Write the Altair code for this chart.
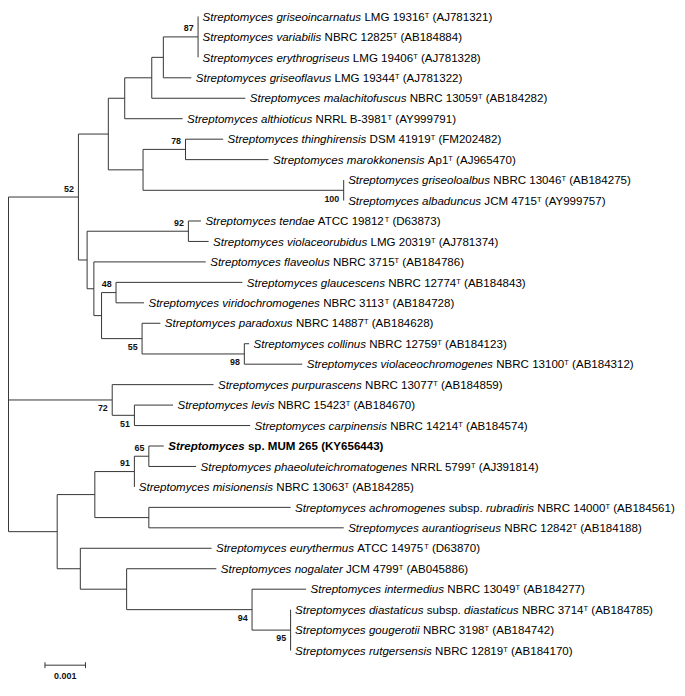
import altair as alt
import pandas as pd

# ---------------- data ----------------
GENUS = "Streptomyces"
species = ["griseoincarnatus", "variabilis", "erythrogriseus", "griseoflavus",
           "malachitofuscus", "althioticus", "thinghirensis", "marokkonensis",
           "griseoloalbus", "albaduncus", "tendae", "violaceorubidus", "flaveolus",
           "glaucescens", "viridochromogenes", "paradoxus", "collinus",
           "violaceochromogenes", "purpurascens", "levis", "carpinensis", "sp.",
           "phaeoluteichromatogenes", "misionensis", "achromogenes subsp. rubradiris",
           "aurantiogriseus", "eurythermus", "nogalater", "intermedius",
           "diastaticus subsp. diastaticus", "gougerotii", "rutgersensis"]
strains = ["LMG 19316", "NBRC 12825", "LMG 19406", "LMG 19344", "NBRC 13059",
           "NRRL B-3981", "DSM 41919", "Ap1", "NBRC 13046", "JCM 4715", "ATCC 19812",
           "LMG 20319", "NBRC 3715", "NBRC 12774", "NBRC 3113", "NBRC 14887",
           "NBRC 12759", "NBRC 13100", "NBRC 13077", "NBRC 15423", "NBRC 14214",
           "MUM 265", "NRRL 5799", "NBRC 13063", "NBRC 14000", "NBRC 12842",
           "ATCC 14975", "JCM 4799", "NBRC 13049", "NBRC 3714", "NBRC 3198", "NBRC 12819"]
accessions = ["AJ781321", "AB184884", "AJ781328", "AJ781322", "AB184282", "AY999791",
              "FM202482", "AJ965470", "AB184275", "AY999757", "D63873", "AJ781374",
              "AB184786", "AB184843", "AB184728", "AB184628", "AB184123", "AB184312",
              "AB184859", "AB184670", "AB184574", "KY656443", "AJ391814", "AB184285",
              "AB184561", "AB184188", "D63870", "AB045886", "AB184277", "AB184785",
              "AB184742", "AB184170"]
type_strain = [True] * 21 + [False] + [True] * 10
highlight = [21]                      # the new isolate, in bold
roman_words = ["sp.", "subsp."]

# Neighbour-joining tree (leaf names = row index, internal labels = bootstrap %)
newick = ("(((((((0:0,1:0,2:0)87:0.000857,3:0.000690):0.000286,4:0.002310):0.000667,"
          "5:0.001429):0.000405,((6:0.000929,7:0.002048)78:0.001048,(8:0,9:0)100:0.004952)"
          ":0.000857):0.000738,((10:0.000310,11:0.000500)92:0.002500,(12:0.002762,"
          "((13:0.003119,14:0.000690)48:0.000357,(15:0.000452,(16:0.000119,17:0.001429)98"
          ":0.002524)55:0.001000):0.000190):0.000167):0.000214)52:0.001726,"
          "(18:0.002500,(19:0.000952,20:0.002857)51:0.000548)72:0.002560,"
          "((((21:0.000369,22:0.001167)65:0.000357,23:0)91:0.000976,"
          "(24:0.003500,25:0.004810):0.001333):0.000929,(26:0.003238,(27:0.002214,"
          "(28:0.001333,(29:0,30:0,31:0)95:0.000952)94:0.003095):0.001143):0.000571)"
          ":0.001202);")
boot_below = ["100", "55", "98", "72", "51", "94", "95"]
scale_bar_length = 0.001
scale_bar_label = "0.001"

# ---------------- layout helpers ----------------
W, H = 677, 676
PX = 41000.0          # pixels per substitution/site
X0 = 0.5              # root position (px)
Y0, SP = 4.5, 20.7    # first row (px) and row spacing (px)
FONT = "Liberation Sans"
FS, FS_SUP, FS_BOOT = 11.7, 7.5, 9

REG = {' ': 278, '(': 333, ')': 333, '-': 333, '.': 278, ',': 278, ':': 278}
for ch in "0123456789":
    REG[ch] = 556
REG.update(dict(zip("ABCDEFGHIJKLMNOPQRSTUVWXYZ",
                    [667, 667, 722, 722, 667, 611, 778, 722, 278, 500, 667, 556, 833,
                     722, 778, 667, 778, 722, 667, 611, 722, 667, 944, 667, 667, 611])))
REG.update(dict(zip("abcdefghijklmnopqrstuvwxyz",
                    [556, 556, 500, 556, 556, 278, 556, 556, 222, 222, 500, 222, 833,
                     556, 556, 556, 556, 333, 500, 278, 556, 500, 722, 500, 500, 500])))
BOLD = dict(REG)
BOLD.update(dict(zip("ABCDEFGHIJKLMNOPQRSTUVWXYZ",
                     [722, 722, 722, 722, 667, 611, 778, 722, 278, 556, 722, 611, 833,
                      722, 778, 667, 778, 722, 667, 611, 722, 667, 944, 667, 667, 611])))
BOLD.update(dict(zip("abcdefghijklmnopqrstuvwxyz",
                     [556, 611, 556, 611, 556, 333, 611, 611, 278, 278, 556, 278, 889,
                      611, 611, 611, 611, 389, 556, 333, 611, 556, 778, 556, 556, 500])))


def text_width(s, style):
    table = BOLD if style in ("b", "bi") else REG
    size = FS_SUP if style == "s" else FS
    return sum(table.get(c, 556) for c in s) * size / 1000.0


def parse_newick(s):
    pos = 0

    def node():
        nonlocal pos
        n = {"children": [], "name": "", "len": 0.0}
        if s[pos] == "(":
            pos += 1
            while True:
                n["children"].append(node())
                if s[pos] == ",":
                    pos += 1
                    continue
                if s[pos] == ")":
                    pos += 1
                    break
                raise ValueError("bad newick at %d" % pos)
        start = pos
        while pos < len(s) and s[pos] not in ":,);":
            pos += 1
        n["name"] = s[start:pos]
        if pos < len(s) and s[pos] == ":":
            pos += 1
            start = pos
            while s[pos] not in ",);":
                pos += 1
            n["len"] = float(s[start:pos])
        return n

    return node()


tree = parse_newick(newick)
leaf_counter = [0]


def layout(n, depth):
    n["x"] = depth
    if n["children"]:
        for c in n["children"]:
            layout(c, depth + c["len"])
        n["y"] = (n["children"][0]["y"] + n["children"][-1]["y"]) / 2.0
    else:
        n["y"] = float(leaf_counter[0])
        leaf_counter[0] += 1


layout(tree, 0.0)

branches, boots, leaves = [], [], []


def collect(n):
    if n["children"]:
        branches.append(dict(x=n["x"], x2=n["x"], y=n["children"][0]["y"],
                             y2=n["children"][-1]["y"]))
        for c in n["children"]:
            branches.append(dict(x=n["x"], x2=c["x"], y=c["y"], y2=c["y"]))
            collect(c)
        if n["name"]:
            off = 8.5 / SP
            boots.append(dict(x=n["x"] - 4.5 / PX,
                              y=n["y"] + (off if n["name"] in boot_below else -off),
                              text=n["name"]))
    else:
        leaves.append(dict(idx=int(n["name"]), x=n["x"], y=n["y"]))


collect(tree)

# label segments
segs = []
for lf in leaves:
    i = lf["idx"]
    bold = i in highlight
    it, ro = ("bi", "b") if bold else ("i", "r")
    parts = [(GENUS + " ", it)]
    for w in species[i].split(" "):
        parts.append((w + " ", ro if w in roman_words else it))
    parts.append((strains[i], ro))
    if type_strain[i]:
        parts.append(("T", "s"))
    parts.append((" (" + accessions[i] + ")", ro))
    cur = 4.5
    for txt, st in parts:
        lead = len(txt) - len(txt.lstrip(" "))
        segs.append(dict(x=lf["x"] + (cur + text_width(" " * lead, st)) / PX,
                         y=lf["y"], text=txt.strip(), style=st))
        cur += text_width(txt, st)
seg_df = pd.DataFrame(segs)

xs = alt.Scale(domain=[-X0 / PX, (W - X0) / PX], zero=False, nice=False)
ys = alt.Scale(domain=[-Y0 / SP, (H - Y0) / SP], reverse=True, zero=False, nice=False)
LINE = "#333333"


def X(f="x"):
    return alt.X(f + ":Q", scale=xs, axis=None)


def Y(f="y"):
    return alt.Y(f + ":Q", scale=ys, axis=None)


layers = []
layers.append(alt.Chart(pd.DataFrame(branches)).mark_rule(color=LINE, strokeWidth=1)
              .encode(x=X(), x2="x2:Q", y=Y(), y2="y2:Q"))

styles = {"i": ("italic", "normal", FS, 4.2), "r": ("normal", "normal", FS, 4.2),
          "bi": ("italic", "bold", FS, 4.2), "b": ("normal", "bold", FS, 4.2),
          "s": ("normal", "normal", FS_SUP, 1.2)}
for st, (fstyle, fweight, fsize, dy) in styles.items():
    d = seg_df[seg_df["style"] == st]
    if len(d) == 0:
        continue
    layers.append(alt.Chart(d).mark_text(font=FONT, fontSize=fsize, fontStyle=fstyle,
                                         fontWeight=fweight, align="left",
                                         baseline="alphabetic", dy=dy, color="black")
                  .encode(x=X(), y=Y(), text="text:N"))

layers.append(alt.Chart(pd.DataFrame(boots)).mark_text(font=FONT, fontSize=FS_BOOT,
                                                        fontWeight="bold", align="right",
                                                        baseline="middle", color="#111")
              .encode(x=X(), y=Y(), text="text:N"))

# scale bar
sb_x = 0.0009
sb_y = (661 - Y0) / SP
tk = 3.0 / SP
sb = pd.DataFrame([
    dict(x=sb_x, x2=sb_x + scale_bar_length, y=sb_y, y2=sb_y),
    dict(x=sb_x, x2=sb_x, y=sb_y - tk, y2=sb_y + tk),
    dict(x=sb_x + scale_bar_length, x2=sb_x + scale_bar_length, y=sb_y - tk, y2=sb_y + tk),
])
layers.append(alt.Chart(sb).mark_rule(color=LINE, strokeWidth=1)
              .encode(x=X(), x2="x2:Q", y=Y(), y2="y2:Q"))
sbl = pd.DataFrame([dict(x=sb_x + scale_bar_length / 2, y=(671.5 - Y0) / SP,
                         text=scale_bar_label)])
layers.append(alt.Chart(sbl).mark_text(font=FONT, fontSize=FS_BOOT, fontWeight="bold",
                                       align="center", baseline="middle", color="#111")
              .encode(x=X(), y=Y(), text="text:N"))

chart = (alt.layer(*layers)
         .properties(width=W, height=H, padding=0,
                     autosize=alt.AutoSizeParams(type="none"))
         .configure_view(strokeWidth=0))
chart.save("out.html", embed_options={"renderer": "svg", "actions": False})
